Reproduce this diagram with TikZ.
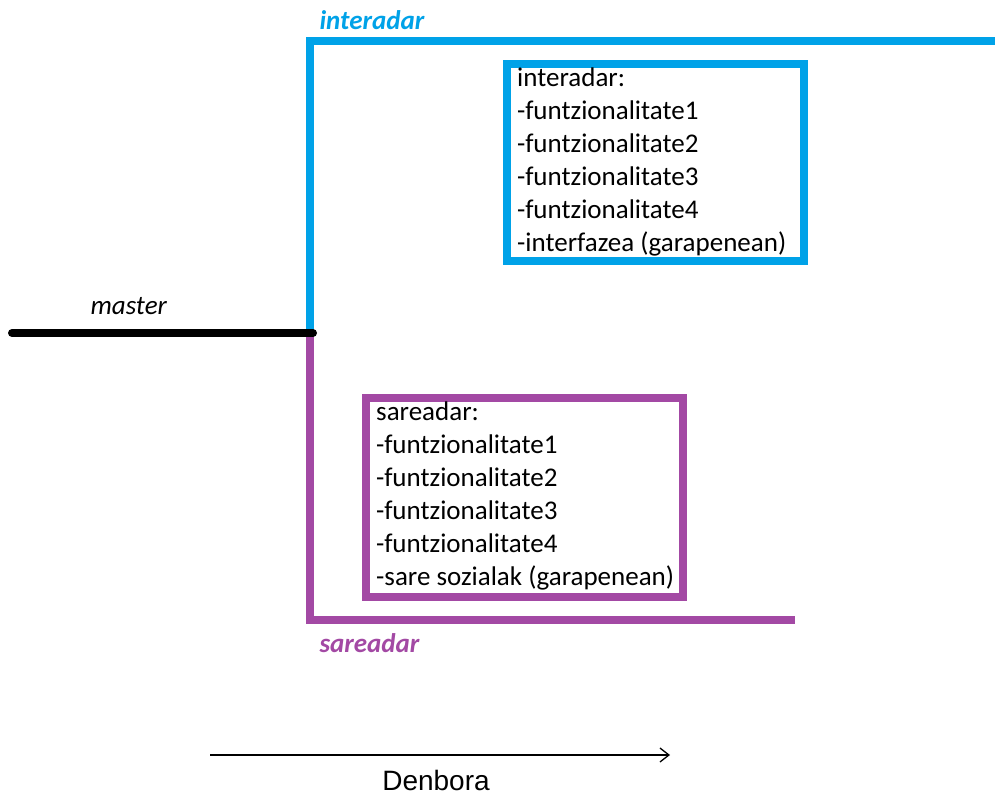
\documentclass[tikz,border=0pt]{standalone}
\usepackage{fontspec}
\setmainfont{Carlito}
\newfontfamily\arialfont{Liberation Sans}
\usetikzlibrary{arrows.meta}
\definecolor{branchblue}{HTML}{00A2E8}
\definecolor{branchpurple}{HTML}{A349A4}
\begin{document}
\begin{tikzpicture}[x=1pt,y=-1pt,
  branch/.style={line width=8pt},
  boxframe/.style={line width=8pt},
  featlist/.style={anchor=north west,align=left,inner sep=0pt,font=\fontsize{27}{33}\selectfont},
  branchlabel/.style={font=\fontsize{27}{30}\selectfont\bfseries\itshape}]
\useasboundingbox (0,0) rectangle (995,799);

% trunk and branch point
\coordinate (split) at (310,333);
\coordinate (masterstart) at (12,333);
\coordinate (bluecorner) at (310,41);
\coordinate (blueend) at (995,41);
\coordinate (purplecorner) at (310,620);
\coordinate (purpleend) at (795,620);

\draw[branch,branchblue] (split) -- (bluecorner) -- (blueend);
\draw[branch,branchpurple] (split) -- (purplecorner) -- (purpleend);
\draw[branch,black,line cap=round] (masterstart) -- ([xshift=3pt]split);

% branch names
\node[branchlabel,text=branchblue,anchor=west] (lblinter) at (316,20) {interadar};
\node[font=\fontsize{27}{30}\selectfont\itshape,anchor=west] (lblmaster) at (87,306) {master};
\node[branchlabel,text=branchpurple,anchor=west] (lblsare) at (316,643) {sareadar};

% feature boxes
\draw[branchblue,boxframe] (507,64) rectangle (804,261);
\node[featlist] (interlist) at (517,68) {interadar:\\-funtzionalitate1\\-funtzionalitate2\\-funtzionalitate3\\-funtzionalitate4\\-interfazea (garapenean)};

\draw[branchpurple,boxframe] (366,398) rectangle (683,597);
\node[featlist] (sarelist) at (376,402) {sareadar:\\-funtzionalitate1\\-funtzionalitate2\\-funtzionalitate3\\-funtzionalitate4\\-sare sozialak (garapenean)};

% time axis
\coordinate (tstart) at (210,755);
\coordinate (tend) at (670,755);
\draw[line width=1.3pt,-{Straight Barb[length=9pt,width=14pt]}] (tstart) -- (tend);
\node[font=\arialfont\fontsize{28}{32}\selectfont] (denbora) at (436,780) {Denbora};
\end{tikzpicture}
\end{document}
